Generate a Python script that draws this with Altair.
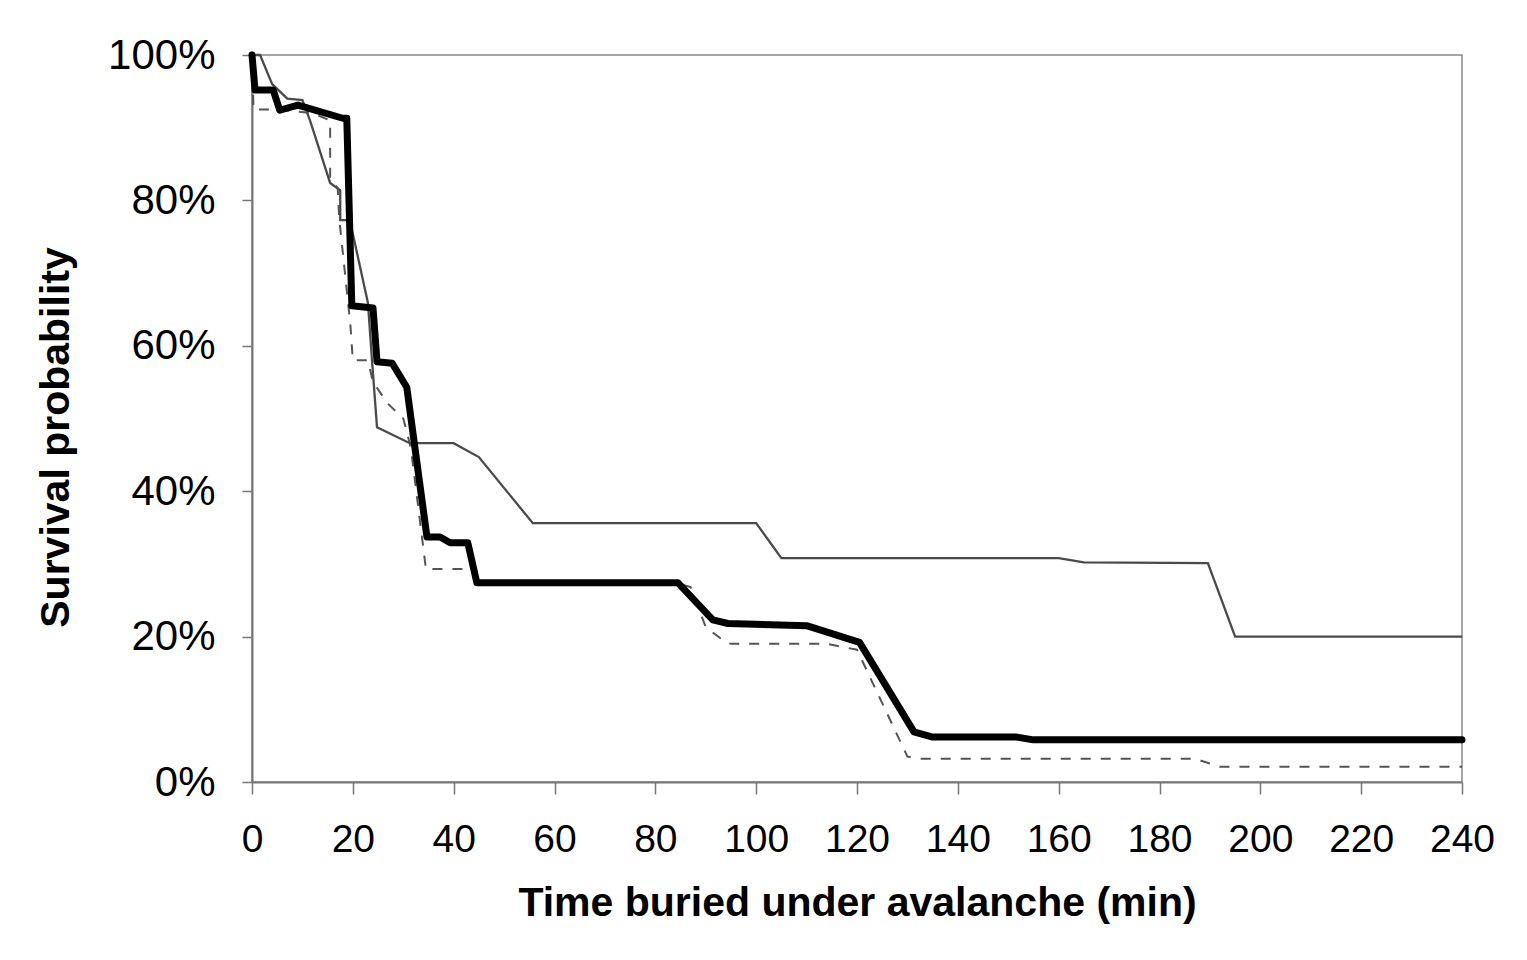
import altair as alt
import pandas as pd

# Time (min) and survival probability (%) for each curve
thick_t = [0, 0.6, 4.2, 5.5, 9.1, 18.0, 18.8, 19.8, 24.0, 24.8, 27.8, 30.7, 34.7, 37.3, 39.3,
           42.8, 44.6, 84.5, 91.4, 94.4, 110.0, 120.5, 131.3, 134.8, 151.5, 155.0, 240.0]
thick_p = [100, 95.2, 95.2, 92.4, 93.1, 91.3, 91.3, 65.5, 65.2, 57.8, 57.6, 54.3, 33.7, 33.7, 32.9,
           32.9, 27.4, 27.4, 22.3, 21.8, 21.5, 19.2, 6.9, 6.2, 6.2, 5.8, 5.8]

grey_t = [0, 1.6, 4.0, 7.0, 10.0, 11.5, 15.5, 17.5, 17.5, 19.4, 23.0, 23.8, 24.8, 31.3, 40.0,
          45.0, 55.7, 100.0, 105.0, 160.0, 165.0, 189.6, 195.0, 240.0]
grey_p = [100, 100, 96, 94, 93.8, 91, 82.4, 81.4, 77.3, 77.3, 65.9, 58, 48.8, 46.6, 46.6,
          44.7, 35.6, 35.6, 30.8, 30.8, 30.2, 30.1, 20.0, 20.0]

dash_t = [0, 0.3, 5.0, 12.0, 15.5, 15.5, 17.0, 17.3, 19.5, 20.0, 23.0, 24.0, 27.0, 30.0, 31.5,
          34.5, 44.0, 45.0, 84.0, 87.0, 90.0, 94.0, 95.0, 114.0, 120.0, 130.0, 132.6, 187.0,
          192.0, 240.0]
dash_p = [100, 92.5, 92.5, 92.0, 91.0, 83.0, 81.7, 77.5, 63.0, 58.0, 58.0, 55.0, 52.0, 50.0, 46.0,
          29.3, 29.3, 27.4, 27.4, 26.8, 21.3, 19.2, 19.0, 19.0, 18.2, 3.5, 3.2, 3.2,
          2.1, 2.1]

x_ticks = list(range(0, 241, 20))
y_ticks = [0, 20, 40, 60, 80, 100]

def frame(t, p):
    return pd.DataFrame({"t": t, "p": p, "i": list(range(len(t)))})

FONT = "Liberation Sans"

x_enc = alt.X("t:Q", scale=alt.Scale(domain=[0, 240], nice=False, zero=False),
              axis=alt.Axis(values=x_ticks, title="Time buried under avalanche (min)",
                            labelFontSize=39, labelFont=FONT, labelColor="#000",
                            labelFlush=False, labelOverlap=False,
                            labelPadding=26, tickSize=12, tickColor="#777", tickWidth=1.5,
                            domainColor="#777", domainWidth=2, grid=False,
                            titleFont=FONT, titleFontSize=41, titleFontWeight="bold",
                            titleColor="#000", titleBaseline="middle", titleY=121))
y_enc = alt.Y("p:Q", scale=alt.Scale(domain=[0, 100], nice=False),
              axis=alt.Axis(values=y_ticks, labelExpr="datum.value + '%'",
                            title="Survival probability",
                            labelFontSize=42, labelFont=FONT, labelColor="#000",
                            labelFlush=False, labelOverlap=False,
                            labelPadding=27, tickSize=10, tickColor="#777", tickWidth=1.5,
                            domainColor="#777", domainWidth=2, grid=False,
                            titleFont=FONT, titleFontSize=41, titleFontWeight="bold",
                            titleColor="#000", titleBaseline="middle", titleX=-196,
                            titleY=382))

dashed = alt.Chart(frame(dash_t, dash_p)).mark_line(
    color="#555", strokeWidth=2, strokeDash=[10, 10]
).encode(x=x_enc, y=y_enc, order="i:Q")

grey = alt.Chart(frame(grey_t, grey_p)).mark_line(
    color="#4a4a4a", strokeWidth=2.3
).encode(x=x_enc, y=y_enc, order="i:Q")

thick = alt.Chart(frame(thick_t, thick_p)).mark_line(
    color="#000", strokeWidth=7, strokeJoin="round", strokeCap="round"
).encode(x=x_enc, y=y_enc, order="i:Q")

chart = alt.layer(dashed, grey, thick).properties(
    width=1210, height=727,
    autosize=alt.AutoSizeParams(type="none"),
    padding={"left": 244, "top": 47, "right": 57, "bottom": 160},
    background="white",
).configure_view(stroke="#888", strokeWidth=1.5)

chart.save("out.html", embed_options={"renderer": "svg", "actions": False})
